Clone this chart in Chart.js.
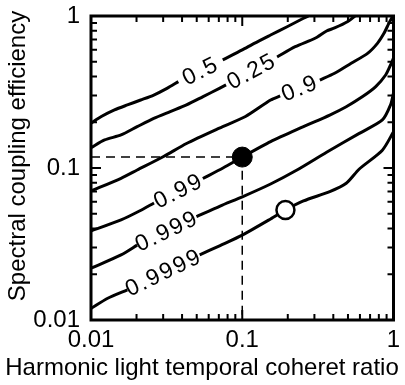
<!DOCTYPE html>
<html>
<head>
<meta charset="utf-8">
<script src="https://cdn.jsdelivr.net/npm/chart.js@4/dist/chart.umd.min.js"></script>
<style>
  html, body { margin: 0; padding: 0; background: #fff; }
  #chart { display: block; }
</style>
</head>
<body>
<canvas id="chart" width="405" height="385"></canvas>
<script>
// ==========================================
// DATA
// ==========================================

const xTickValues = [0.01, 0.1, 1];
const xTickLabels = ["0.01", "0.1", "1"];
const yTickValues = [0.01, 0.1, 1];
const yTickLabels = ["0.01", "0.1", "1"];
const decades = [0.01, 0.1];
const mantissas = [1, 2, 3, 4, 5, 6, 7, 8, 9];

const xTitle = "Harmonic light temporal coheret ratio";
const yTitle = "Spectral coupling efficiency";

const levels = ["0.5", "0.25", "0.9", "0.99", "0.999", "0.9999"];

// null = break in the line where the level label sits
const curve05X = [0.01, 0.0117, 0.0143, 0.0174, 0.0213, 0.026, 0.0318, 0.0378, null, 0.0743, 0.1, 0.12, 0.154, 0.198, 0.254, 0.274];
const curve05Y = [0.197, 0.218, 0.241, 0.26, 0.28, 0.302, 0.334, 0.37, null, 0.514, 0.598, 0.661, 0.75, 0.85, 0.966, 1];

const curve025X = [0.01, 0.0123, 0.0158, 0.0202, 0.026, 0.0334, 0.0428, 0.0551, 0.0706, 0.0781, null, 0.17, 0.224, 0.303, 0.361, 0.408, 0.499, 0.557];
const curve025Y = [0.136, 0.153, 0.165, 0.187, 0.212, 0.235, 0.26, 0.295, 0.334, 0.352, null, 0.537, 0.628, 0.714, 0.797, 0.834, 0.92, 1];

const curve09X = [0.01, 0.0158, 0.0202, 0.0302, 0.0428, 0.0706, 0.105, 0.154, 0.178, null, 0.326, 0.408, 0.525, 0.674, 0.783, 0.865, 0.932, 0.985];
const curve09Y = [0.0706, 0.0856, 0.097, 0.119, 0.145, 0.183, 0.218, 0.28, 0.298, null, 0.379, 0.42, 0.489, 0.568, 0.661, 0.769, 0.895, 0.992];

const curve099X = [0.01, 0.0158, 0.0209, 0.0261, null, 0.0549, 0.0746, 0.1, 0.154, 0.254, 0.379, 0.487, 0.625, 0.763, 0.887, 0.956, 1];
const curve099Y = [0.0385, 0.0455, 0.0521, 0.0589, null, 0.0853, 0.1, 0.118, 0.149, 0.187, 0.223, 0.253, 0.295, 0.343, 0.409, 0.476, 0.529];

const curve0999X = [0.01, 0.0158, 0.0202, null, 0.0498, 0.0714, 0.101, 0.154, 0.23, 0.361, 0.594, 0.844, 0.956, 1];
const curve0999Y = [0.0219, 0.0268, 0.0311, null, 0.0478, 0.0562, 0.0649, 0.0785, 0.097, 0.127, 0.169, 0.207, 0.26, 0.311];

const curve09999X = [0.01, 0.0129, 0.0174, null, 0.0523, 0.0714, 0.1, 0.154, 0.193, 0.254, 0.379, 0.487, 0.594, 0.844, 1];
const curve09999Y = [0.0119, 0.0139, 0.0158, null, 0.0268, 0.0309, 0.0362, 0.0462, 0.0529, 0.0607, 0.0699, 0.0793, 0.0985, 0.131, 0.173];

const filledPointX = [0.1];
const filledPointY = [0.118];
const openPointX = [0.193];
const openPointY = [0.0529];

const guideX = [0.01, 0.1, 0.1];
const guideY = [0.118, 0.118, 0.01];

// ==========================================
// HELPERS
// ==========================================

const FONT = "'Liberation Sans', Arial, Helvetica, sans-serif";

function toPoints(xs, ys) {
  return xs.map((x, i) => ({ x: x === null ? xs[i - 1] : x, y: ys[i] }));
}

const curveXs = [curve05X, curve025X, curve09X, curve099X, curve0999X, curve09999X];
const curveYs = [curve05Y, curve025Y, curve09Y, curve099Y, curve0999Y, curve09999Y];

// ==========================================
// PLUGINS
// ==========================================

// frame + inward log ticks on all four sides
const framePlugin = {
  id: "frame",
  afterDatasetsDraw(chart) {
    const { ctx, chartArea, scales } = chart;
    const { left, right, top, bottom } = chartArea;
    ctx.save();
    ctx.strokeStyle = "#000";
    ctx.lineWidth = 2;
    ctx.beginPath();
    decades.forEach((d) => {
      mantissas.forEach((m) => {
        const v = d * m;
        const len = m === 1 ? 10 : 6;
        const px = scales.x.getPixelForValue(v);
        const py = scales.y.getPixelForValue(v);
        ctx.moveTo(px, bottom); ctx.lineTo(px, bottom - len);
        ctx.moveTo(px, top); ctx.lineTo(px, top + len);
        ctx.moveTo(left, py); ctx.lineTo(left + len, py);
        ctx.moveTo(right, py); ctx.lineTo(right - len, py);
      });
    });
    ctx.stroke();
    ctx.lineWidth = 3;
    ctx.strokeRect(left, top, right - left, bottom - top);
    ctx.restore();
  },
};

// level labels written inside the gap of each curve
const levelLabelPlugin = {
  id: "levelLabels",
  afterDatasetsDraw(chart) {
    const { ctx, scales } = chart;
    ctx.save();
    ctx.fillStyle = "#000";
    ctx.font = "23px " + FONT;
    ctx.textAlign = "center";
    ctx.textBaseline = "middle";
    if ("letterSpacing" in ctx) ctx.letterSpacing = "2px";
    curveXs.forEach((xs, c) => {
      const ys = curveYs[c];
      const gap = ys.indexOf(null);
      const x1 = scales.x.getPixelForValue(xs[gap - 1]);
      const y1 = scales.y.getPixelForValue(ys[gap - 1]);
      const x2 = scales.x.getPixelForValue(xs[gap + 1]);
      const y2 = scales.y.getPixelForValue(ys[gap + 1]);
      ctx.save();
      ctx.translate((x1 + x2) / 2, (y1 + y2) / 2);
      ctx.rotate(Math.atan2(y2 - y1, x2 - x1));
      ctx.fillText(levels[c], 0, 1);
      ctx.restore();
    });
    ctx.restore();
  },
};

// axis titles
const titlePlugin = {
  id: "axisTitles",
  afterDraw(chart) {
    const { ctx } = chart;
    ctx.save();
    ctx.fillStyle = "#000";
    ctx.font = "24px " + FONT;
    ctx.textAlign = "center";
    ctx.textBaseline = "alphabetic";
    ctx.fillText(xTitle, 202, 375);
    ctx.translate(25, 156);
    ctx.rotate(-Math.PI / 2);
    ctx.fillText(yTitle, 0, 0);
    ctx.restore();
  },
};

// ==========================================
// CHART
// ==========================================

const curveDatasets = curveXs.map((xs, c) => ({
  label: levels[c],
  data: toPoints(xs, curveYs[c]),
  showLine: true,
  borderColor: "#000",
  borderWidth: 3,
  pointRadius: 0,
  tension: 0.25,
  spanGaps: false,
  order: 1,
}));

new Chart(document.getElementById("chart"), {
  type: "scatter",
  data: {
    datasets: [
      {
        label: "filled",
        data: toPoints(filledPointX, filledPointY),
        pointRadius: 10,
        pointBackgroundColor: "#000",
        pointBorderColor: "#000",
        pointBorderWidth: 1,
        order: 0,
      },
      {
        label: "open",
        data: toPoints(openPointX, openPointY),
        pointRadius: 9,
        pointBackgroundColor: "#fff",
        pointBorderColor: "#000",
        pointBorderWidth: 2.5,
        order: 0,
      },
      ...curveDatasets,
      {
        label: "guide",
        data: toPoints(guideX, guideY),
        showLine: true,
        borderColor: "#000",
        borderWidth: 1.5,
        borderDash: [9, 6],
        pointRadius: 0,
        tension: 0,
        order: 2,
      },
    ],
  },
  options: {
    responsive: false,
    animation: false,
    devicePixelRatio: 1,
    layout: { padding: { top: 16, right: 7, left: 0, bottom: 0 } },
    plugins: { legend: { display: false }, tooltip: { enabled: false } },
    scales: {
      x: {
        type: "logarithmic",
        min: 0.01,
        max: 1,
        afterBuildTicks: (scale) => {
          scale.ticks = xTickValues.map((v) => ({ value: v }));
        },
        afterFit: (scale) => {
          scale.height = 65;
          scale.paddingLeft = 0;
          scale.paddingRight = 0;
        },
        grid: { display: false, drawTicks: false },
        border: { display: false },
        ticks: {
          color: "#000",
          padding: 6,
          maxRotation: 0,
          autoSkip: false,
          font: { size: 24, family: FONT },
          callback: (v, i) => xTickLabels[i],
        },
      },
      y: {
        type: "logarithmic",
        min: 0.01,
        max: 1,
        afterBuildTicks: (scale) => {
          scale.ticks = yTickValues.map((v) => ({ value: v }));
        },
        afterFit: (scale) => {
          scale.width = 91;
          scale.paddingTop = 0;
          scale.paddingBottom = 0;
        },
        grid: { display: false, drawTicks: false },
        border: { display: false },
        ticks: {
          color: "#000",
          padding: 11,
          autoSkip: false,
          font: { size: 24, family: FONT },
          callback: (v, i) => yTickLabels[i],
        },
      },
    },
  },
  plugins: [framePlugin, levelLabelPlugin, titlePlugin],
});
</script>
</body>
</html>
